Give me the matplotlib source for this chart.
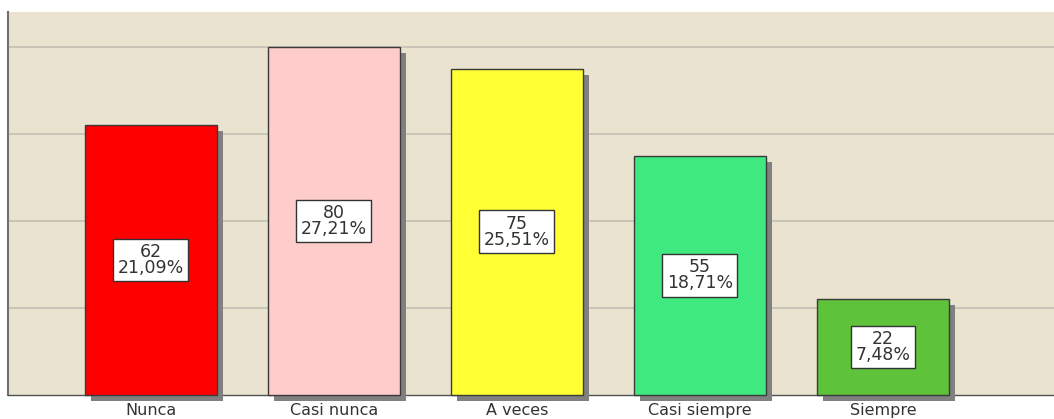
import matplotlib
matplotlib.use("Agg")
import matplotlib.pyplot as plt
import matplotlib.patheffects as pe

categories = ["Nunca", "Casi nunca", "A veces", "Casi siempre", "Siempre"]
counts = [62, 80, 75, 55, 22]
percents = ["21,09%", "27,21%", "25,51%", "18,71%", "7,48%"]
colors = ["#FF0000", "#FFCCCC", "#FFFF33", "#40E880", "#5EC23A"]

W, H = 1054, 419
fig = plt.figure(figsize=(W / 100, H / 100), dpi=100)
fig.patch.set_facecolor("white")
ax = fig.add_axes([8 / W, (H - 395) / H, (W - 8) / W, 383 / H])
ax.set_facecolor("#E9E3CF")

x = list(range(len(categories)))
bars = ax.bar(x, counts, width=0.72, color=colors, edgecolor="#3a3a3a",
              linewidth=1.0, zorder=3, clip_on=False)
for b in bars:
    b.set_path_effects([pe.SimplePatchShadow(offset=(4.3, -4.3),
                                             shadow_rgbFace="#808080", alpha=1.0),
                        pe.Normal()])

for xi, c, p in zip(x, counts, percents):
    ax.text(xi, c / 2, f"{c}\n{p}", ha="center", va="center", fontsize=12.5,
            color="#333333", linespacing=0.85, zorder=5,
            bbox=dict(boxstyle="square,pad=0.25", facecolor="white",
                      edgecolor="#333333", linewidth=1.0))

ax.set_xlim(-0.78, 4.935)
ax.set_ylim(0, 88)
ax.set_yticks([20, 40, 60, 80])
ax.yaxis.grid(True, color="#C4C0B4", linewidth=1.2, zorder=0)
ax.set_axisbelow(True)
ax.tick_params(axis="y", left=False, labelleft=False)
ax.tick_params(axis="x", length=0, pad=6, labelsize=11.5, labelcolor="#333333")
ax.set_xticks(x)
ax.set_xticklabels(categories)

for s in ["top", "right"]:
    ax.spines[s].set_visible(False)
ax.spines["left"].set_color("#707070")
ax.spines["left"].set_linewidth(1.5)
ax.spines["bottom"].set_color("#505050")
ax.spines["bottom"].set_linewidth(1.0)

fig.savefig("out.png", dpi=100)
